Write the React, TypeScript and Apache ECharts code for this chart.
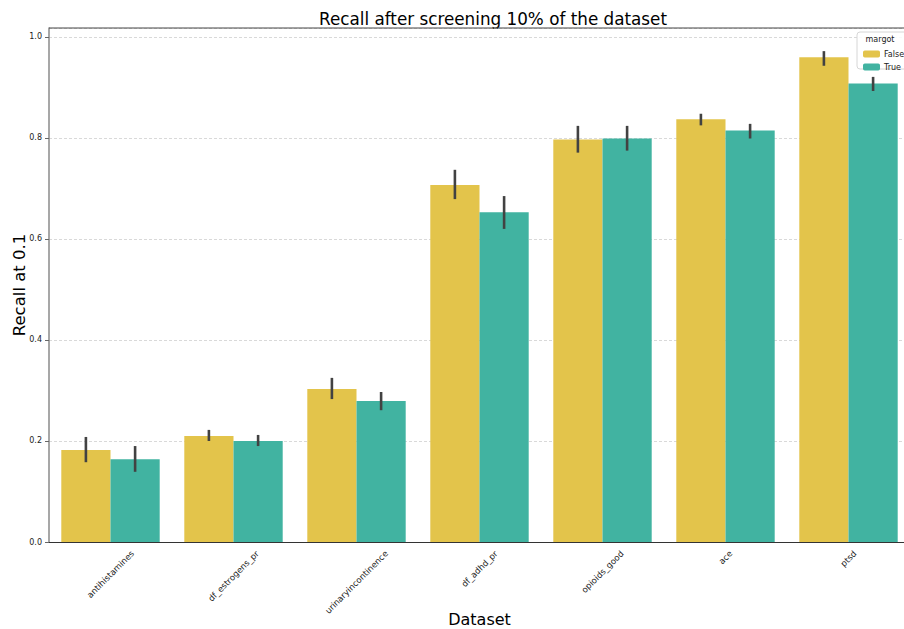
import React, { useEffect, useRef } from "react";
import * as echarts from "echarts";

const categories = [
  "antihistamines",
  "df_estrogens_pr",
  "urinaryincontinence",
  "df_adhd_pr",
  "opioids_good",
  "ace",
  "ptsd",
];

// margot = False
const falseVals = [0.182, 0.21, 0.303, 0.707, 0.797, 0.837, 0.96];
const falseLow = [0.158, 0.2, 0.283, 0.679, 0.771, 0.825, 0.943];
const falseHigh = [0.208, 0.222, 0.325, 0.737, 0.824, 0.848, 0.972];

// margot = True
const trueVals = [0.164, 0.2, 0.279, 0.653, 0.799, 0.815, 0.908];
const trueLow = [0.139, 0.19, 0.261, 0.62, 0.775, 0.799, 0.893];
const trueHigh = [0.19, 0.212, 0.297, 0.685, 0.824, 0.828, 0.921];

const yTicks = [0, 0.2, 0.4, 0.6, 0.8, 1.0];

const FONT = "DejaVu Sans";
const YELLOW = "#e3c44b";
const TEAL = "#41b3a1";
const XLABEL_SIZE = 8.5;

let measureCtx: CanvasRenderingContext2D | null = null;
function textWidth(s: string, size: number) {
  if (!measureCtx) measureCtx = document.createElement("canvas").getContext("2d");
  if (!measureCtx) return s.length * size * 0.5;
  measureCtx.font = `${size}px "${FONT}"`;
  return measureCtx.measureText(s).width;
}

function errorSeries(name: string, low: number[], high: number[], side: number) {
  return {
    type: "custom",
    name: name + "_err",
    z: 10,
    silent: true,
    data: categories.map((_, i) => [i, low[i], high[i]]),
    renderItem: (params: any, api: any) => {
      const idx = api.value(0);
      const band = api.size([1, 0])[0];
      const p0 = api.coord([idx, api.value(1)]);
      const p1 = api.coord([idx, api.value(2)]);
      const x = p0[0] + side * band * 0.2;
      return {
        type: "line",
        shape: { x1: x, y1: p0[1], x2: x, y2: p1[1] },
        style: { stroke: "#424242", lineWidth: 2.6 },
      };
    },
  };
}

// Category labels rotated 45°, with the rotated box centred under each tick
const xLabelSeries = {
  type: "custom",
  name: "xlabels",
  silent: true,
  clip: false,
  z: 3,
  data: categories.map((_, i) => [i, 0]),
  renderItem: (params: any, api: any) => {
    const idx = api.value(0);
    const p = api.coord([idx, 0]);
    const label = categories[idx];
    const w = textWidth(label, XLABEL_SIZE);
    const box = (w + XLABEL_SIZE) * Math.SQRT1_2;
    return {
      type: "text",
      x: p[0],
      y: p[1] + 7 + box / 2,
      rotation: Math.PI / 4,
      style: {
        text: label,
        fontFamily: FONT,
        fontSize: XLABEL_SIZE,
        fill: "#222",
        align: "center",
        verticalAlign: "middle",
      },
    };
  },
};

export default function App() {
  const ref = useRef<HTMLDivElement>(null);

  useEffect(() => {
    if (!ref.current) return;
    const chart = echarts.init(ref.current, undefined, { renderer: "svg" });
    chart.setOption({
      animation: false,
      backgroundColor: "#ffffff",
      textStyle: { fontFamily: FONT },
      graphic: [
        {
          type: "text",
          x: 493,
          y: 19,
          style: {
            text: "Recall after screening 10% of the dataset",
            fontFamily: FONT,
            fontSize: 16.8,
            fill: "#000",
            align: "center",
            verticalAlign: "middle",
          },
        },
        {
          type: "text",
          x: 19,
          y: 285,
          rotation: Math.PI / 2,
          style: {
            text: "Recall at 0.1",
            fontFamily: FONT,
            fontSize: 16.5,
            fill: "#000",
            align: "center",
            verticalAlign: "middle",
          },
        },
        {
          type: "line",
          shape: { x1: 49, y1: 28, x2: 904, y2: 28 },
          style: { stroke: "#444", lineWidth: 1 },
          z: 5,
        },
        {
          type: "rect",
          shape: { x: 857, y: 32, width: 60, height: 37, r: 3 },
          style: { fill: "rgba(255,255,255,0.85)", stroke: "#d6d6d6", lineWidth: 1 },
          z: 5,
        },
        {
          type: "text",
          x: 880,
          y: 35,
          style: {
            text: "margot",
            fontFamily: FONT,
            fontSize: 8,
            fill: "#222",
            align: "center",
          },
          z: 6,
        },
      ],
      legend: {
        orient: "vertical",
        left: 858,
        top: 45,
        itemWidth: 17,
        itemHeight: 7,
        itemGap: 5,
        z: 20,
        data: ["False", "True"],
        textStyle: { fontFamily: FONT, fontSize: 8, color: "#222", padding: [0, 0, 0, -1] },
      },
      grid: { left: 49, top: 28, width: 861, height: 514, outerBoundsMode: "none", containLabel: false },
      xAxis: {
        type: "category",
        data: categories,
        name: "Dataset",
        nameLocation: "middle",
        nameGap: 69,
        nameMoveOverlap: false,
        nameTextStyle: { fontFamily: FONT, fontSize: 16, color: "#000" },
        axisLine: { lineStyle: { color: "#333", width: 1 } },
        axisTick: { alignWithLabel: true, length: 4, lineStyle: { color: "#333" } },
        axisLabel: { show: false },
      },
      yAxis: {
        type: "value",
        min: 0,
        max: 1.0178,
        interval: 0.2,
        axisLine: { show: true, lineStyle: { color: "#8a8a8a", width: 1.5 } },
        axisTick: { show: true, length: 4, lineStyle: { color: "#666" } },
        axisLabel: {
          fontSize: 8,
          color: "#222",
          margin: 7,
          fontFamily: FONT,
          showMaxLabel: false,
          formatter: (v: number) =>
            yTicks.some((t) => Math.abs(t - v) < 1e-6) ? v.toFixed(1) : "",
        },
        splitLine: { show: true, lineStyle: { color: "#cfcfcf", type: [3, 2], width: 0.8 } },
      },
      series: [
        {
          type: "bar",
          name: "False",
          data: falseVals,
          barWidth: "40%",
          barGap: "0%",
          itemStyle: { color: YELLOW },
        },
        {
          type: "bar",
          name: "True",
          data: trueVals,
          barWidth: "40%",
          barGap: "0%",
          itemStyle: { color: TEAL },
        },
        errorSeries("False", falseLow, falseHigh, -1),
        errorSeries("True", trueLow, trueHigh, 1),
        xLabelSeries,
      ],
    });
    return () => chart.dispose();
  }, []);

  return (
    <div
      ref={ref}
      style={{ position: "fixed", left: 0, top: 0, width: 904, height: 629, background: "#fff" }}
    />
  );
}
